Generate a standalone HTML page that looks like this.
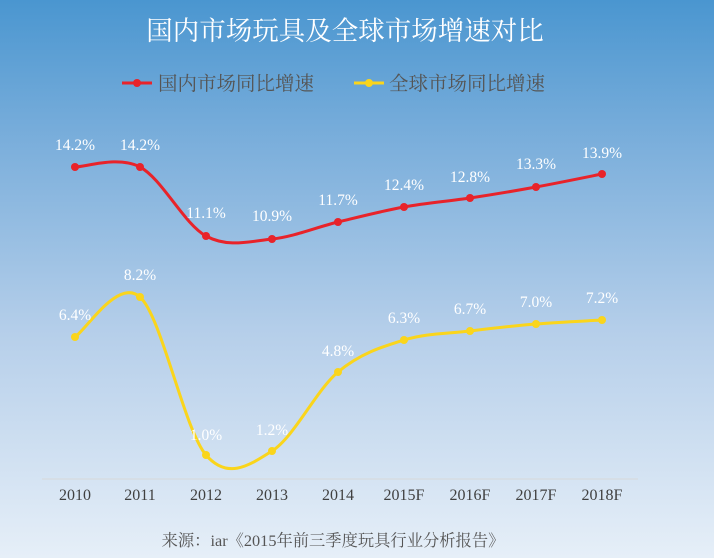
<!DOCTYPE html>
<html><head><meta charset="utf-8"><style>
html,body{margin:0;padding:0}
body{width:714px;height:558px;overflow:hidden;background:linear-gradient(#4a96d0 0%,#7aaedb 25%,#b6cfea 60%,#e6eff8 100%);}
</style></head><body>
<svg width="714" height="558" xmlns="http://www.w3.org/2000/svg" style="position:absolute;left:0;top:0">
<g font-family="'Liberation Serif','Noto Serif CJK SC',serif">
<text x="345" y="40" font-size="26.5" fill="#fff" text-anchor="middle">国内市场玩具及全球市场增速对比</text>
<line x1="122" y1="83" x2="152" y2="83" stroke="#e8232a" stroke-width="3"/><circle cx="137" cy="83" r="4" fill="#e8232a"/>
<text x="158" y="90" font-size="19.5" fill="#555">国内市场同比增速</text>
<line x1="354" y1="83" x2="384" y2="83" stroke="#fad51c" stroke-width="3"/><circle cx="369" cy="83" r="4" fill="#fad51c"/>
<text x="389" y="90" font-size="19.5" fill="#555">全球市场同比增速</text>
<line x1="42" y1="479" x2="638" y2="479" stroke="#d8d8d8" stroke-width="1"/>
<path d="M75,167 C85.8,167 118.2,155.5 140,167 C161.8,178.5 184,224 206,236 C228,248 250,241.3 272,239 C294,236.7 316,227.3 338,222 C360,216.7 382,211 404,207 C426,203 448,201.3 470,198 C492,194.7 514,191 536,187 C558,183 591,176.2 602,174" fill="none" stroke="#e8232a" stroke-width="3"/>
<path d="M75,337 C85.8,330.3 118.2,277.3 140,297 C161.8,316.7 184,429.3 206,455 C228,480.7 250,464.8 272,451 C294,437.2 316,390.5 338,372 C360,353.5 382,346.8 404,340 C426,333.2 448,333.7 470,331 C492,328.3 514,325.8 536,324 C558,322.2 591,320.7 602,320" fill="none" stroke="#fad51c" stroke-width="3"/>
<g fill="#e8232a">
<circle cx="75" cy="167" r="4"/><circle cx="140" cy="167" r="4"/><circle cx="206" cy="236" r="4"/><circle cx="272" cy="239" r="4"/><circle cx="338" cy="222" r="4"/><circle cx="404" cy="207" r="4"/><circle cx="470" cy="198" r="4"/><circle cx="536" cy="187" r="4"/><circle cx="602" cy="174" r="4"/></g>
<g fill="#fad51c">
<circle cx="75" cy="337" r="4"/><circle cx="140" cy="297" r="4"/><circle cx="206" cy="455" r="4"/><circle cx="272" cy="451" r="4"/><circle cx="338" cy="372" r="4"/><circle cx="404" cy="340" r="4"/><circle cx="470" cy="331" r="4"/><circle cx="536" cy="324" r="4"/><circle cx="602" cy="320" r="4"/></g>
<g font-size="15.5" fill="#fff" text-anchor="middle">
<text x="75" y="150">14.2%</text><text x="140" y="150">14.2%</text><text x="206" y="218">11.1%</text><text x="272" y="221">10.9%</text><text x="338" y="205">11.7%</text><text x="404" y="190">12.4%</text><text x="470" y="182">12.8%</text><text x="536" y="169">13.3%</text><text x="602" y="158">13.9%</text>
<text x="75" y="320">6.4%</text><text x="140" y="280">8.2%</text><text x="206" y="440">1.0%</text><text x="272" y="435">1.2%</text><text x="338" y="356">4.8%</text><text x="404" y="323">6.3%</text><text x="470" y="314">6.7%</text><text x="536" y="307">7.0%</text><text x="602" y="303">7.2%</text>
</g>
<g font-size="16" fill="#404040" text-anchor="middle">
<text x="75" y="500">2010</text><text x="140" y="500">2011</text><text x="206" y="500">2012</text><text x="272" y="500">2013</text><text x="338" y="500">2014</text><text x="404" y="500">2015F</text><text x="470" y="500">2016F</text><text x="536" y="500">2017F</text><text x="602" y="500">2018F</text>
</g>
<text x="333" y="546" font-size="16.3" fill="#555" text-anchor="middle">来源：iar《2015年前三季度玩具行业分析报告》</text>
</g>
</svg>
</body></html>
